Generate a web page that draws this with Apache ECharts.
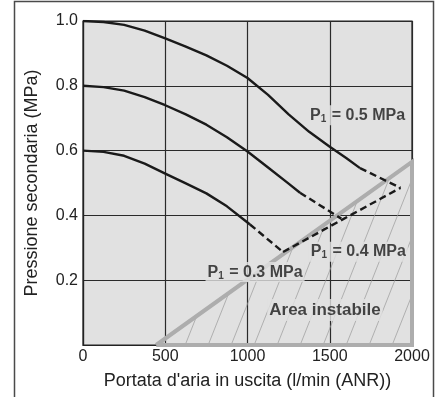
<!DOCTYPE html>
<html lang="it">
<head>
<meta charset="UTF-8">
<title>Pressione secondaria</title>
<style>
  html, body { margin: 0; padding: 0; background: #fff; }
  #main { width: 440px; height: 397px; }
</style>
</head>
<body>
<div id="main"></div>
<script src="https://cdn.jsdelivr.net/npm/echarts@6/dist/echarts.min.js"></script>
<script>
// tick values
var xTicks = [0, 500, 1000, 1500, 2000];
var yTicks = [0, 0.2, 0.4, 0.6, 0.8, 1.0];

// P1 = 0.5 MPa
var p05Solid = [[0, 1.0], [125, 0.997], [250, 0.988], [375, 0.97], [500, 0.946], [625, 0.921], [750, 0.894],
  [875, 0.862], [1000, 0.824], [1125, 0.772], [1250, 0.712], [1375, 0.658], [1500, 0.612], [1600, 0.577], [1684, 0.546]];
var p05Dash = [[1684, 0.546], [1930, 0.485]];
// P1 = 0.4 MPa
var p04Solid = [[0, 0.8], [125, 0.796], [250, 0.785], [375, 0.765], [500, 0.74], [625, 0.712], [750, 0.68],
  [875, 0.641], [1000, 0.597], [1125, 0.548], [1250, 0.498], [1319, 0.47]];
var p04Dash = [[1319, 0.47], [1570, 0.39]];
// P1 = 0.3 MPa
var p03Solid = [[0, 0.6], [125, 0.596], [250, 0.584], [375, 0.56], [500, 0.529], [625, 0.499], [750, 0.468],
  [875, 0.428], [1000, 0.378], [1015, 0.372]];
var p03Dash = [[1015, 0.372], [1216, 0.287]];
// dashed line rising along the limit
var riseDash = [[1216, 0.287], [1930, 0.485]];

// unstable area boundary
var limitEdge = [[445, 0], [2000, 0.565]];
var limitBox = [[445, 0], [2000, 0.565], [2000, 0], [445, 0]];

// text labels [x, y, text]
var labels = [
  [1669, 0.709, 'P1 = 0.5 MPa'],
  [1674, 0.288, 'P1 = 0.4 MPa'],
  [1046, 0.225, 'P1 = 0.3 MPa'],
  [1471, 0.108, 'Area instabile']
];

var plotBg = '#e1e1e1';
var ink = '#1a1a1a';

// hatch pattern for the unstable area
function hatch() {
  var c = document.createElement('canvas');
  c.width = 23; c.height = 58;
  var g = c.getContext('2d');
  g.strokeStyle = '#999';
  g.lineWidth = 0.7;
  [-23, 0, 23].forEach(function (dx) {
    g.beginPath();
    g.moveTo(dx, 58);
    g.lineTo(dx + 23, 0);
    g.stroke();
  });
  return c;
}

function curve(data, dashed) {
  return {
    type: 'line',
    data: data,
    smooth: false,
    showSymbol: false,
    z: 4,
    lineStyle: { color: ink, width: 2.4, type: dashed ? [7, 4] : 'solid', join: 'round' }
  };
}

var chart = echarts.init(document.getElementById('main'));

var fontBase = '"Liberation Sans", Arial, Helvetica, sans-serif';

chart.setOption({
  animation: false,
  backgroundColor: '#fff',
  textStyle: { fontFamily: fontBase },
  graphic: [{
    type: 'rect',
    shape: { x: 14.5, y: 1.5, width: 419, height: 420 },
    style: { fill: 'none', stroke: '#4a4a4a', lineWidth: 1.5 },
    z: 0
  }],
  grid: {
    left: 83, right: 28, top: 21, bottom: 52,
    show: true,
    backgroundColor: plotBg,
    borderColor: '#222',
    borderWidth: 1.2
  },
  xAxis: {
    type: 'value',
    min: xTicks[0], max: xTicks[xTicks.length - 1], interval: 500,
    name: "Portata d'aria in uscita (l/min (ANR))",
    nameLocation: 'middle',
    nameGap: 27,
    nameTextStyle: { fontSize: 18, color: '#222' },
    axisLine: { show: true, lineStyle: { color: '#222', width: 1.2 } },
    axisTick: { show: false },
    axisLabel: {
      fontSize: 16, color: '#222', margin: 4,
      formatter: function (v) { return String(v); }
    },
    splitLine: { show: true, lineStyle: { color: '#2a2a2a', width: 1.2 } }
  },
  yAxis: {
    type: 'value',
    min: yTicks[0], max: yTicks[yTicks.length - 1], interval: 0.2,
    name: 'Pressione secondaria (MPa)',
    nameLocation: 'middle',
    nameGap: 42,
    nameTextStyle: { fontSize: 18, color: '#222' },
    axisLine: { show: true, lineStyle: { color: '#222', width: 1.2 } },
    axisTick: { show: false },
    axisLabel: {
      fontSize: 16, color: '#222', margin: 5,
      formatter: function (v) { return v === 0 ? '' : v.toFixed(1); }
    },
    splitLine: { show: true, lineStyle: { color: '#2a2a2a', width: 1.2 } }
  },
  series: [
    {
      type: 'line',
      data: limitEdge,
      showSymbol: false,
      z: 2,
      lineStyle: { width: 0 },
      areaStyle: { color: { image: hatch(), repeat: 'repeat' }, opacity: 1 }
    },
    {
      type: 'line',
      data: limitBox,
      showSymbol: false,
      z: 3,
      lineStyle: { color: '#adadad', width: 4, join: 'miter' }
    },
    curve(p05Solid, false),
    curve(p05Dash, true),
    curve(p04Solid, false),
    curve(p04Dash, true),
    curve(p03Solid, false),
    curve(p03Dash, true),
    curve(riseDash, true),
    {
      type: 'scatter',
      z: 6,
      symbolSize: 1,
      itemStyle: { color: 'transparent' },
      data: labels,
      label: {
        show: true,
        position: 'inside',
        backgroundColor: plotBg,
        padding: [1, 2],
        formatter: function (p) {
          var t = p.value[2];
          if (t.indexOf('P1') === 0) {
            return '{b|P}{s|1}{b|' + t.slice(2) + '}';
          }
          return '{a|' + t + '}';
        },
        rich: {
          b: { fontSize: 16, fontWeight: 'bold', color: ink, fontFamily: fontBase, lineHeight: 18 },
          s: { fontSize: 10, fontWeight: 'bold', color: ink, fontFamily: fontBase, lineHeight: 18, verticalAlign: 'bottom', padding: [5, 1, 0, 0] },
          a: { fontSize: 17, fontWeight: 'bold', color: ink, fontFamily: fontBase, lineHeight: 20 }
        }
      }
    }
  ]
});
</script>
</body>
</html>
